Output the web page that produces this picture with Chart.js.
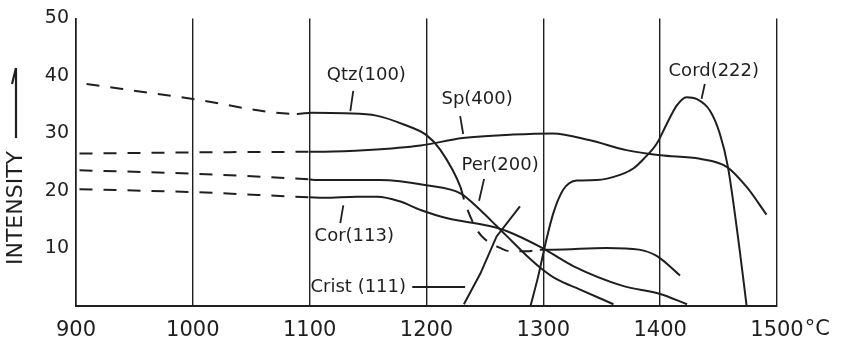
<!DOCTYPE html>
<html><head><meta charset="utf-8">
<script src="https://cdn.jsdelivr.net/npm/chart.js@4.4.1/dist/chart.umd.min.js"></script>
<style>html,body{margin:0;padding:0;background:#fff;}#wrap{width:841px;height:342px;position:relative;}</style>
</head><body><div id="wrap"><canvas id="c" width="841" height="342"></canvas></div>
<script>
// ---- tick labels ----
const xTicks = [900, 1000, 1100, 1200, 1300, 1400, 1500];
const yTicks = [10, 20, 30, 40, 50];

// ---- series (temperature °C, intensity) ----
const qtzTemp = [909, 1000, 1089, 1102, 1130, 1157, 1180, 1200, 1212, 1229, 1233, 1243, 1250, 1263, 1272, 1286, 1297, 1308, 1354, 1382, 1397, 1417];
const qtzInt  = [38.6, 36.0, 33.4, 33.6, 33.5, 33.1, 31.6, 29.7, 27.1, 20.7, 17.9, 13.3, 11.6, 10.1, 9.5, 9.5, 9.8, 9.8, 10.1, 9.8, 8.7, 5.3];

const spTemp = [903, 1000, 1100, 1113, 1150, 1195, 1231, 1274, 1308, 1340, 1371, 1400, 1434, 1457, 1474, 1491];
const spInt  = [26.5, 26.7, 26.8, 26.8, 27.1, 27.9, 29.2, 29.8, 30.0, 28.8, 27.1, 26.2, 25.6, 24.2, 20.7, 15.9];

const perTemp = [903, 1000, 1100, 1106, 1160, 1200, 1229, 1246, 1260, 1269, 1286, 1299, 1311, 1331, 1360];
const perInt  = [23.6, 23.0, 22.0, 21.9, 21.9, 21.0, 19.6, 16.7, 13.9, 12.1, 8.7, 6.4, 4.7, 2.9, 0.3];

const corTemp = [903, 1000, 1100, 1113, 1140, 1158, 1177, 1195, 1217, 1254, 1269, 1299, 1326, 1368, 1400, 1423];
const corInt  = [20.3, 19.8, 18.9, 18.8, 19.0, 19.0, 18.2, 16.7, 15.3, 13.9, 13.0, 10.1, 6.9, 3.5, 2.1, 0.3];

const cristTemp = [1232, 1246, 1260, 1280];
const cristInt  = [0.3, 5.6, 12.1, 17.3];

const cordTemp = [1289, 1296, 1302, 1308.5, 1317, 1328.5, 1345.6, 1365.6, 1377, 1386, 1397, 1405.5, 1414, 1422.6, 1431, 1442.5, 1451, 1458, 1468, 1474];
const cordInt  = [0, 5.5, 11.0, 16.1, 20.2, 21.8, 21.9, 22.8, 23.9, 25.6, 28.2, 31.6, 34.8, 36.3, 36.0, 34.0, 30.0, 24.2, 9.8, 0];

// ---- labels (text, anchor temp, anchor intensity, leader from/to in data units) ----
const labelText = ["Qtz(100)", "Sp(400)", "Per(200)", "Cord(222)", "Cor(113)", "Crist (111)"];
const labelTemp = [1148.5, 1243.3, 1263, 1445.9, 1138.2, 1141.6];
const labelInt  = [40.1, 36.0, 24.4, 40.8, 12.1, 3.3];
const leaderFrom = [[1137.3, 37.4], [1228.8, 33.0], [1249.3, 22.1], [1438.2, 38.6], [1128.8, 17.5], [1187.8, 3.3]];
const leaderTo   = [[1134.8, 33.9], [1231.4, 29.9], [1245.0, 18.3], [1435.4, 36.0], [1126.2, 14.4], [1233.0, 3.3]];

const INK = '#1f1f1f';
const pts = (xs, ys) => xs.map((x, i) => ({x: x, y: ys[i]}));
const dashRanges = {
  qtz: [[0, 1095], [1229, 1302]],
  sp: [[0, 1100]],
  per: [[0, 1100]],
  cor: [[0, 1100]],
  crist: [],
  cord: []
};
function seg(name) {
  return {
    borderDash: ctx => {
      const m = (ctx.p0.parsed.x + ctx.p1.parsed.x) / 2;
      return dashRanges[name].some(r => m >= r[0] && m <= r[1]) ? [13, 11] : undefined;
    }
  };
}
function ds(name, xs, ys, tension) {
  return {
    label: name, data: pts(xs, ys), borderColor: INK, borderWidth: 2,
    pointRadius: 0, fill: false, cubicInterpolationMode: tension ? 'monotone' : 'default',
    tension: tension ? 0.4 : 0, segment: seg(name)
  };
}

const annot = {
  id: 'annot',
  afterDatasetsDraw(chart) {
    const {ctx, scales: {x, y}} = chart;
    ctx.save();
    ctx.fillStyle = INK; ctx.strokeStyle = INK;
    ctx.font = '18px "DejaVu Sans"';
    ctx.textAlign = 'center'; ctx.textBaseline = 'middle';
    labelText.forEach((t, i) => {
      ctx.fillText(t, x.getPixelForValue(labelTemp[i]), y.getPixelForValue(labelInt[i]));
      ctx.lineWidth = 1.8;
      ctx.beginPath();
      ctx.moveTo(x.getPixelForValue(leaderFrom[i][0]), y.getPixelForValue(leaderFrom[i][1]));
      ctx.lineTo(x.getPixelForValue(leaderTo[i][0]), y.getPixelForValue(leaderTo[i][1]));
      ctx.stroke();
    });
    // °C after last x tick
    ctx.font = '21px "DejaVu Sans"';
    ctx.textAlign = 'left'; ctx.textBaseline = 'top';
    const w = ctx.measureText(String(xTicks[xTicks.length - 1])).width;
    ctx.fillText('°C', x.getPixelForValue(xTicks[xTicks.length - 1]) + w / 2 + 1, 319);
    // y title with arrow
    ctx.save();
    ctx.translate(16, 208);
    ctx.rotate(-Math.PI / 2);
    ctx.font = '22px "DejaVu Sans"';
    ctx.textAlign = 'center'; ctx.textBaseline = 'middle';
    ctx.fillText('INTENSITY', 0, 0);
    ctx.restore();
    ctx.lineWidth = 2.2;
    ctx.beginPath(); ctx.moveTo(16, 138); ctx.lineTo(16, 68); ctx.stroke();
    ctx.beginPath(); ctx.moveTo(16, 68); ctx.lineTo(12, 84); ctx.stroke();
    ctx.restore();
  }
};

new Chart(document.getElementById('c'), {
  type: 'line',
  data: {
    datasets: [
      ds('qtz', qtzTemp, qtzInt, true),
      ds('sp', spTemp, spInt, true),
      ds('per', perTemp, perInt, true),
      ds('cor', corTemp, corInt, true),
      ds('crist', cristTemp, cristInt, false),
      ds('cord', cordTemp, cordInt, true)
    ]
  },
  options: {
    responsive: false, animation: false,
    layout: {padding: {left: 0, right: 64, top: 17, bottom: 0}},
    plugins: {legend: {display: false}, tooltip: {enabled: false}},
    scales: {
      x: {
        type: 'linear', min: 900, max: 1500,
        afterBuildTicks: s => { s.ticks = xTicks.map(v => ({value: v})); },
        afterFit: s => { s.height = 36; },
        ticks: {color: INK, font: {family: 'DejaVu Sans', size: 21}, padding: 12, maxRotation: 0, autoSkip: false,
                callback: v => String(v)},
        grid: {color: INK, lineWidth: 1.4, drawTicks: false},
        border: {display: true, color: INK, width: 2}
      },
      y: {
        type: 'linear', min: 0, max: 50,
        afterBuildTicks: s => { s.ticks = yTicks.map(v => ({value: v})); },
        afterFit: s => { s.width = 76; },
        ticks: {color: INK, font: {family: 'DejaVu Sans', size: 19}, padding: 7, callback: v => String(v)},
        grid: {display: false, drawTicks: false},
        border: {display: true, color: INK, width: 1.6}
      }
    }
  },
  plugins: [annot]
});
</script></body></html>
